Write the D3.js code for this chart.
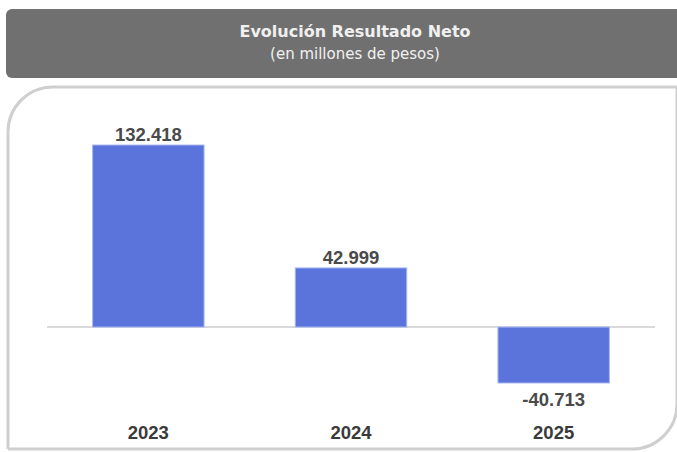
<!DOCTYPE html>
<html>
<head>
<meta charset="utf-8">
<script src="https://cdn.jsdelivr.net/npm/d3@7"></script>
<style>
  body { margin: 0; background: #fff; }
  svg { display: block; font-family: "Liberation Sans", Arial, sans-serif; }
</style>
</head>
<body>
<svg id="chart" width="677" height="452"></svg>
<script>
var years = ["2023", "2024", "2025"];
var resultado = [132418, 42999, -40713];

var svg = d3.select("#chart");
var fmt = d3.formatLocale({ decimal: ",", thousands: ".", grouping: [3], currency: ["$", ""], minus: "-" }).format(",d");

// header box
svg.append("rect")
    .attr("x", 6).attr("y", 9)
    .attr("width", 700).attr("height", 69)
    .attr("rx", 6)
    .attr("fill", "#707070");

svg.append("text")
    .attr("x", 355).attr("y", 37)
    .attr("text-anchor", "middle")
    .attr("fill", "#f0f0f0")
    .style("font-family", "'DejaVu Sans', sans-serif")
    .style("font-size", "16px")
    .style("font-weight", "bold")
    .text("Evolución Resultado Neto");

svg.append("text")
    .attr("x", 355).attr("y", 59)
    .attr("text-anchor", "middle")
    .attr("fill", "#f0f0f0")
    .style("font-family", "'DejaVu Sans', sans-serif")
    .style("font-size", "15px")
    .text("(en millones de pesos)");

// panel border
svg.append("path")
    .attr("d", "M8,449 L8,132 A45,45 0 0 1 53,87 L690,87")
    .attr("fill", "none")
    .attr("stroke", "#cfcfcf")
    .attr("stroke-width", 3);

svg.append("path")
    .attr("d", "M677,87 L677,404 A45,45 0 0 1 632,449 L8,449")
    .attr("fill", "none")
    .attr("stroke", "#cfcfcf")
    .attr("stroke-width", 3);

var data = years.map(function(y, i) { return { year: y, value: resultado[i] }; });

var x = d3.scaleBand()
    .domain(years)
    .range([47, 655])
    .paddingInner(0.45)
    .paddingOuter(0.225);

var y = d3.scaleLinear()
    .domain([-40713, 132418])
    .range([383, 145]);

// zero line
svg.append("line")
    .attr("x1", 47).attr("x2", 655)
    .attr("y1", y(0)).attr("y2", y(0))
    .attr("stroke", "#d9d9d9")
    .attr("stroke-width", 2);

svg.selectAll("rect.bar")
    .data(data)
    .enter()
    .append("rect")
    .attr("class", "bar")
    .attr("x", function(d) { return x(d.year); })
    .attr("y", function(d) { return Math.min(y(d.value), y(0)); })
    .attr("width", x.bandwidth())
    .attr("height", function(d) { return Math.abs(y(d.value) - y(0)); })
    .attr("fill", "#5b74db")
    .attr("stroke", "#a9b8f2")
    .attr("stroke-width", 1);

svg.selectAll("text.val")
    .data(data)
    .enter()
    .append("text")
    .attr("class", "val")
    .attr("x", function(d) { return x(d.year) + x.bandwidth() / 2; })
    .attr("y", function(d) { return d.value >= 0 ? y(d.value) - 4 : y(d.value) + 23; })
    .attr("text-anchor", "middle")
    .attr("fill", "#4a4a4a")
    .style("font-size", "18.5px")
    .style("font-weight", "bold")
    .text(function(d) { return fmt(d.value); });

svg.selectAll("text.year")
    .data(data)
    .enter()
    .append("text")
    .attr("class", "year")
    .attr("x", function(d) { return x(d.year) + x.bandwidth() / 2; })
    .attr("y", 439)
    .attr("text-anchor", "middle")
    .attr("fill", "#3a3a3a")
    .style("font-size", "18.5px")
    .style("font-weight", "bold")
    .text(function(d) { return d.year; });
</script>
</body>
</html>
